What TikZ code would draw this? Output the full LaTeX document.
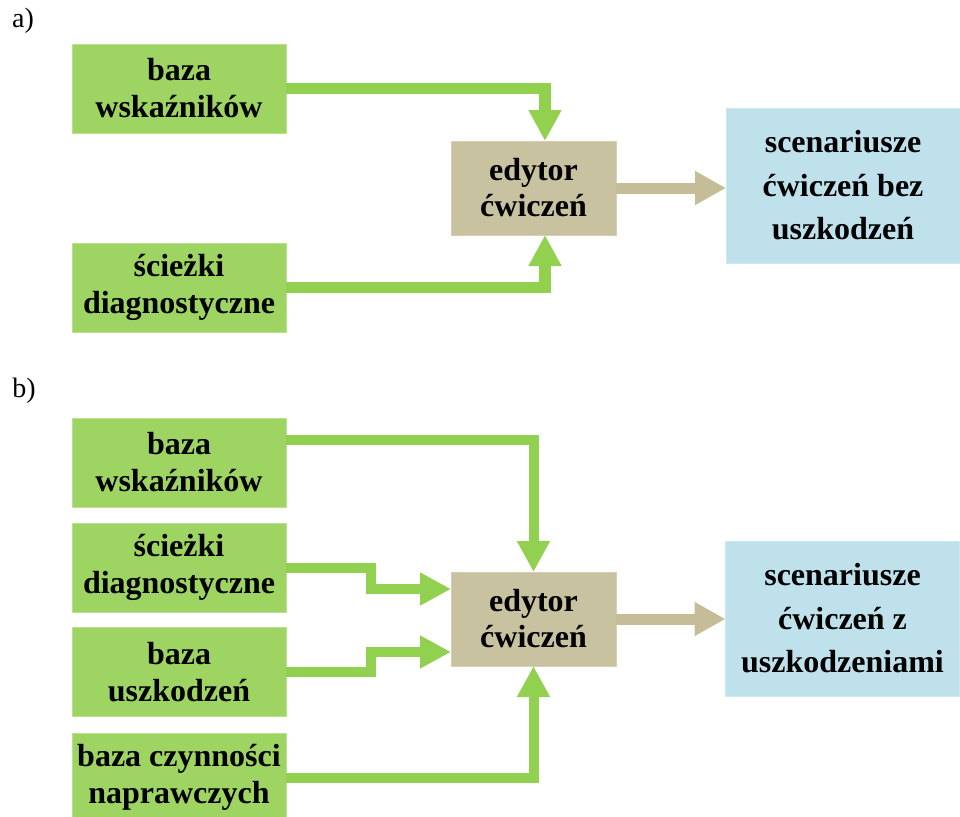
\documentclass[tikz,border=0pt]{standalone}
\usepackage{fontspec}
\setmainfont{Liberation Serif}
\usetikzlibrary{arrows.meta}
\definecolor{boxgreen}{HTML}{9DD462}
\definecolor{boxtan}{HTML}{C9C2A1}
\definecolor{boxblue}{HTML}{BEE1EB}
\definecolor{arrgreen}{HTML}{92D050}
\definecolor{arrtan}{HTML}{C4BD97}
\begin{document}
\begin{tikzpicture}[x=1pt,y=-1pt,
  basebox/.style={inner sep=0pt, outer sep=0pt, align=center},
  gbox/.style={basebox, fill=boxgreen, draw=boxgreen!70!white, line width=0.8pt,
    minimum width=214pt, minimum height=89pt, font=\fontsize{32}{37}\selectfont\bfseries},
  tbox/.style={basebox, fill=boxtan, draw=boxtan!80!white, line width=0.8pt,
    minimum width=165pt, minimum height=94pt, font=\fontsize{32}{36}\selectfont\bfseries},
  bbox/.style={basebox, fill=boxblue, draw=boxblue!80!white, line width=0.8pt,
    minimum width=234pt, minimum height=155pt, font=\fontsize{32}{43.5}\selectfont\bfseries},
  lbl/.style={inner sep=0pt, font=\fontsize{28}{30}\selectfont},
  garrA/.style={draw=arrgreen, line width=11.5pt, -{Triangle[length=31pt,width=31pt]}},
  garrB/.style={draw=arrgreen, line width=10pt, -{Triangle[length=31pt,width=31pt]}},
  tarr/.style={draw=arrtan, line width=11pt, -{Triangle[length=31pt,width=32pt]}}
]
\path[use as bounding box, clip] (0,0) rectangle (960,816);

% ---------- part a ----------
\node[lbl] (la) at (23,21) {a)};
\node[gbox] (aw) at (179,88.5) {baza\\wskaźników};
\node[gbox] (ad) at (179,287.5) {ścieżki\\diagnostyczne};
\node[tbox] (ae) at (533.5,188) {edytor\\ćwiczeń};
\node[bbox] (as) at (843,185.5) {scenariusze\\ćwiczeń bez\\uszkodzeń};

\draw[garrA] (aw.east) -| ([xshift=11.5pt]ae.north);
\draw[garrA] (ad.east) -| ([xshift=11.5pt]ae.south);
\draw[tarr] (ae.east) -- (ae.east -| as.west);

% ---------- part b ----------
\node[lbl] (lb) at (24,391) {b)};
\node[gbox] (bw) at (179,462.5) {baza\\wskaźników};
\node[gbox] (bd) at (179,567.5) {ścieżki\\diagnostyczne};
\node[gbox] (bu) at (179,672) {baza\\uszkodzeń};
\node[gbox] (bc) at (179,777.5) {baza czynności\\naprawczych};
\node[tbox] (be) at (533.5,619) {edytor\\ćwiczeń};
\node[bbox] (bs) at (842.5,618.5) {scenariusze\\ćwiczeń z\\uszkodzeniami};

\draw[garrB] ([yshift=22.5pt]bw.east) -| (be.north);
\draw[garrB] (bd.east) -- ++(85,0) |- ([yshift=30pt]be.west);
\draw[garrB] (bu.east) -- ++(85,0) |- ([yshift=-33pt]be.west);
\draw[garrB] (bc.east) -| (be.south);
\draw[tarr] (be.east) -- (be.east -| bs.west);
\end{tikzpicture}
\end{document}
